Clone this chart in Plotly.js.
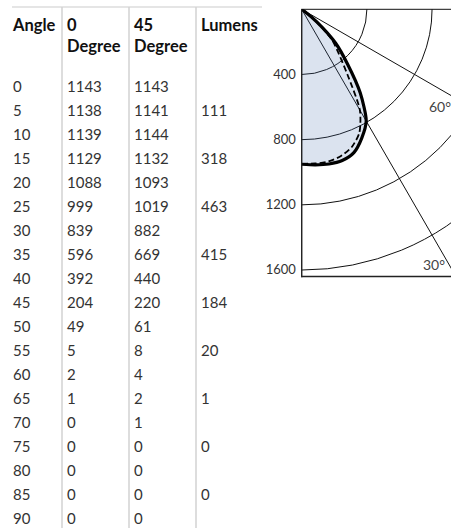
<!DOCTYPE html>
<html><head><meta charset="utf-8">
<script src="https://cdn.plot.ly/plotly-3.0.1.min.js"></script>
<style>html,body{margin:0;padding:0;overflow:hidden;background:#fff}</style>
</head><body><div id="chart" style="width:640px;height:560px"></div>
<script>
// ---- data ----
const angles = [0,5,10,15,20,25,30,35,40,45,50,55,60,65,70,75,80,85,90];
const deg0 = [1143,1138,1139,1129,1088,999,839,596,392,204,49,5,2,1,0,0,0,0,0];
const deg45 = [1143,1141,1144,1132,1093,1019,882,669,440,220,61,8,4,2,1,0,0,0,0];
const lumens = [null,111,null,318,null,463,null,415,null,184,null,20,null,1,null,0,null,0,null];
const headers = ['Angle','0<br>Degree','45<br>Degree','Lumens'];

// curves as drawn in the polar diagram
const curveSolid = [951,958,964,961,936,872,792,626,436,295,123,18,0,0,0,0,0,0,0];
const curveDashed = [948,950,948,932,899,837,714,490,352,260,112,18,0,0,0,0,0,0,0];
const radialTicks = [400,800,1200,1600];
const angularGridStep = 30;
const angleLabels = ['60°','30°'];

// ---- layout helpers ----
const W = 640, H = 560;
const px = x => x / W;
const py = y => 1 - y / H;
const FONT = 'Lato, "Open Sans", sans-serif';

function trimZeros(th, r) {
  const t = [], v = [];
  for (let i = 0; i < r.length; i++) {
    t.push(th[i]); v.push(r[i]);
    if (r[i] === 0) break;
  }
  return {t, v};
}
const s = trimZeros(angles, curveSolid);
const d = trimZeros(angles, curveDashed);

const blank = v => v === null ? '' : String(v);

const table = {
  type: 'table',
  domain: {x: [px(5), px(260)], y: [0, py(7)]},
  columnwidth: [54, 67, 67, 67],
  header: {
    values: headers.map(h => '<b>' + h + '</b>'),
    align: 'left',
    height: 66,
    fill: {color: 'white'},
    line: {color: 'rgba(0,0,0,0)', width: 0},
    font: {family: FONT, size: 16.5, color: '#111'}
  },
  cells: {
    values: [angles.map(String), deg0.map(String), deg45.map(String), lumens.map(blank)],
    align: 'left',
    height: 24,
    fill: {color: 'white'},
    line: {color: 'rgba(0,0,0,0)', width: 0},
    font: {family: FONT, size: 15, color: '#333'}
  }
};

const solid = {
  type: 'scatterpolar', r: s.v, theta: s.t, mode: 'lines',
  fill: 'toself', fillcolor: 'rgba(75,115,175,0.2)',
  line: {color: '#000', width: 3.2, shape: 'spline', smoothing: 0.7},
  hoverinfo: 'skip', showlegend: false
};
const dashed = {
  type: 'scatterpolar', r: d.v, theta: d.t, mode: 'lines',
  line: {color: '#000', width: 1.8, dash: '6px,3px', shape: 'spline', smoothing: 0.7},
  hoverinfo: 'skip', showlegend: false
};

const layout = {
  width: W, height: H,
  margin: {l: 0, r: 0, t: 0, b: 0},
  paper_bgcolor: 'white',
  font: {family: FONT},
  showlegend: false,
  polar: {
    domain: {x: [px(301.7), px(601.7)], y: [py(309.3), py(9.3)]},
    sector: [270, 360],
    bgcolor: 'rgba(0,0,0,0)',
    radialaxis: {
      range: [0, 1841], tickmode: 'array', tickvals: radialTicks, angle: 270, side: 'clockwise',
      showline: true, linecolor: '#222', linewidth: 1.2,
      gridcolor: '#111', gridwidth: 1, ticks: '', tickangle: -90,
      tickfont: {family: FONT, size: 13, color: '#333'}
    },
    angularaxis: {
      type: 'linear', thetaunit: 'degrees',
      rotation: 270, direction: 'counterclockwise',
      tickmode: 'linear', tick0: 0, dtick: angularGridStep,
      showgrid: true, showticklabels: false, ticks: '', showline: false,
      gridcolor: '#111', gridwidth: 1
    }
  },
  shapes: [
    {type: 'rect', xref: 'paper', yref: 'paper', x0: px(290), x1: px(640), y0: py(560), y1: py(277.3),
     fillcolor: 'white', line: {width: 0}, layer: 'above'},
    {type: 'line', xref: 'paper', yref: 'paper', x0: px(301.2), x1: px(640), y0: py(276.5), y1: py(276.5),
     line: {color: '#222', width: 1.3}, layer: 'above'},
    {type: 'line', xref: 'paper', yref: 'paper', x0: px(12), x1: px(262), y0: py(7), y1: py(7),
     line: {color: '#dcdcdc', width: 1.5}, layer: 'above'},
    ...[62, 129, 196].map(x => ({type: 'line', xref: 'paper', yref: 'paper', x0: px(x), x1: px(x),
     y0: py(7), y1: 0, line: {color: '#d2d2d2', width: 1.5}, layer: 'above'}))
  ],
  annotations: [
    {text: angleLabels[0], xref: 'paper', yref: 'paper', x: px(440), y: py(106.5), showarrow: false,
     xanchor: 'center', yanchor: 'middle', font: {family: FONT, size: 14, color: '#444'}},
    {text: angleLabels[1], xref: 'paper', yref: 'paper', x: px(434), y: py(264.5), showarrow: false,
     xanchor: 'center', yanchor: 'middle', font: {family: FONT, size: 14, color: '#444'}}
  ]
};

Plotly.newPlot('chart', [table, solid, dashed], layout, {displayModeBar: false, staticPlot: true});
</script></body></html>
